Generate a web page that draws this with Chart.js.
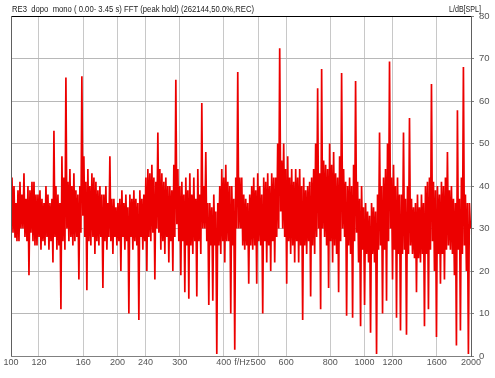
<!DOCTYPE html>
<html>
<head>
<meta charset="utf-8">
<script src="https://cdn.jsdelivr.net/npm/chart.js@4/dist/chart.umd.min.js"></script>
<style>
  html, body { margin: 0; padding: 0; background: #ffffff; }
  #wrap { width: 495px; height: 378px; }
</style>
</head>
<body>
<div id="wrap"><canvas id="fftChart" width="495" height="378"></canvas></div>
<script>
// header texts
const titleText = 'RE3  dopo  mono ( 0.00- 3.45 s) FFT (peak hold) (262144,50.0%,REC)';
const unitText = 'L/dB[SPL]';

// frequency axis ticks (Hz); 451 carries the axis name
const freqTicks = [100, 120, 160, 200, 240, 300, 400, 451, 500, 600, 800, 1000, 1200, 1600, 2000];
const levelTicks = [0, 10, 20, 30, 40, 50, 60, 70, 80];

// spectrum (Hz)
const freqs = [
    100.65, 101.31, 101.97, 102.64, 103.30, 103.97, 104.65, 105.33, 106.02, 106.71,
    107.41, 108.11, 108.81, 109.52, 110.24, 110.96, 111.68, 112.41, 113.14, 113.88,
    114.64, 115.39, 116.14, 116.90, 117.66, 118.43, 119.20, 119.98, 120.76, 121.55,
    122.34, 123.14, 123.94, 124.75, 125.56, 126.38, 127.20, 128.03, 128.87, 129.71,
    130.57, 131.42, 132.26, 133.12, 133.99, 134.86, 135.75, 136.64, 137.52, 138.42,
    139.32, 140.23, 141.15, 142.07, 142.99, 143.92, 144.86, 145.81, 146.76, 147.72,
    148.66, 149.63, 150.62, 151.60, 152.59, 153.59, 154.59, 155.60, 156.61, 157.63,
    158.66, 159.70, 160.73, 161.78, 162.84, 163.90, 164.97, 166.05, 167.12, 168.21,
    169.37, 170.48, 171.59, 172.71, 173.83, 174.96, 176.11, 177.26, 178.41, 179.57,
    180.75, 181.93, 183.11, 184.31, 185.51, 186.72, 187.94, 189.17, 190.40, 191.64,
    192.92, 194.18, 195.44, 196.72, 198.00, 199.29, 200.59, 201.90, 203.22, 204.55,
    205.88, 207.22, 208.57, 209.93, 211.30, 212.68, 214.07, 215.47, 216.87, 218.29,
    219.73, 221.16, 222.59, 224.04, 225.50, 226.97, 228.45, 229.94, 231.44, 232.95,
    234.47, 236.00, 237.54, 239.09, 240.65, 242.22, 243.80, 245.39, 246.99, 248.60,
    250.27, 251.90, 253.55, 255.20, 256.87, 258.55, 260.23, 261.93, 263.64, 265.36,
    267.09, 268.83, 270.58, 272.35, 274.12, 275.91, 277.71, 279.52, 281.34, 283.18,
    285.05, 286.91, 288.78, 290.66, 292.56, 294.47, 296.39, 298.32, 300.27, 302.23,
    304.20, 306.19, 308.18, 310.19, 312.21, 314.25, 316.30, 318.36, 320.44, 322.53,
    324.66, 326.78, 328.91, 331.06, 333.21, 335.38, 337.57, 339.77, 342.00, 344.23,
    346.47, 348.73, 351.01, 353.30, 355.60, 357.92, 360.26, 362.61, 364.97, 367.35,
    369.77, 372.18, 374.60, 377.04, 379.50, 381.98, 384.47, 386.98, 389.50, 392.04,
    394.60, 397.18, 399.76, 402.37, 404.99, 407.63, 410.29, 412.97, 415.66, 418.37,
    421.11, 423.86, 426.62, 429.40, 432.20, 435.02, 437.86, 440.72, 443.59, 446.48,
    449.39, 452.32, 455.27, 458.24, 461.23, 464.24, 467.27, 470.32, 473.38, 476.47,
    479.62, 482.75, 485.90, 489.07, 492.26, 495.47, 498.70, 501.95, 505.23, 508.53,
    511.84, 515.18, 518.54, 521.92, 525.33, 528.76, 532.20, 535.67, 539.16, 542.68,
    546.25, 549.81, 553.39, 557.00, 560.63, 564.29, 567.97, 571.68, 575.40, 579.16,
    582.93, 586.73, 590.56, 594.41, 598.29, 602.19, 606.12, 610.08, 614.05, 618.06,
    622.14, 626.20, 630.28, 634.39, 638.53, 642.70, 646.89, 651.11, 655.35, 659.63,
    663.93, 668.26, 672.62, 677.01, 681.42, 685.87, 690.34, 694.85, 699.37, 703.93,
    708.54, 713.16, 717.80, 722.48, 727.20, 731.95, 736.71, 741.52, 746.35, 751.22,
    756.12, 761.05, 766.01, 771.01, 776.04, 781.10, 786.19, 791.32, 796.48, 801.68,
    806.96, 812.23, 817.52, 822.86, 828.22, 833.63, 839.06, 844.54, 850.04, 855.59,
    861.16, 866.78, 872.43, 878.12, 883.85, 889.62, 895.41, 901.25, 907.13, 913.05,
    919.04, 925.04, 931.03, 937.11, 943.22, 949.38, 955.56, 961.80, 968.06, 974.38,
    980.73, 987.13, 993.56, 1000.04, 1006.6, 1013.2, 1019.7, 1026.4, 1033.1, 1039.8,
    1046.6, 1053.4, 1060.3, 1067.2, 1074.2, 1081.2, 1088.2, 1095.3, 1102.5, 1109.7,
    1116.9, 1124.2, 1131.5, 1138.9, 1146.3, 1153.8, 1161.3, 1168.9, 1176.5, 1184.2,
    1192.0, 1199.8, 1207.5, 1215.4, 1223.3, 1231.3, 1239.3, 1247.4, 1255.5, 1263.7,
    1272.0, 1280.3, 1288.6, 1297.0, 1305.5, 1314.0, 1322.6, 1331.2, 1339.9, 1348.6,
    1357.5, 1366.4, 1375.3, 1384.3, 1393.2, 1402.3, 1411.5, 1420.7, 1429.9, 1439.2,
    1448.6, 1458.1, 1467.6, 1477.2, 1486.8, 1496.5, 1506.2, 1516.0, 1525.9, 1535.9,
    1546.1, 1556.2, 1566.3, 1576.5, 1586.8, 1597.2, 1607.6, 1618.1, 1628.6, 1639.2,
    1649.9, 1660.7, 1671.5, 1682.4, 1693.4, 1704.5, 1715.5, 1726.7, 1738.0, 1749.3,
    1760.9, 1772.4, 1783.8, 1795.4, 1807.1, 1818.9, 1830.8, 1842.7, 1854.7, 1866.8,
    1879.0, 1891.3, 1903.6, 1916.0, 1928.5, 1941.1, 1953.7, 1966.5, 1979.3, 1992.2
];

// peak hold level (dB SPL)
const levels = [
    42, 29, 40, 28, 36, 27, 39, 27, 41, 30,
    38, 30, 43, 28, 37, 27, 40, 19, 39, 29,
    41, 27, 41, 26, 38, 26, 38, 28, 39, 25,
    37, 27, 36, 26, 40, 28, 38, 25, 36, 27,
    37, 22, 53, 28, 40, 25, 38, 26, 36, 11,
    47, 27, 42, 25, 65.5, 30, 41, 27, 44, 28,
    40, 26, 43, 27, 39, 28, 38, 18, 40, 29,
    65.8, 33, 47, 28, 41, 15.5, 44, 27, 40, 26,
    43, 28, 42, 24, 41, 27, 39, 26, 40, 28,
    38, 16, 38, 27, 40, 25, 36, 28, 47, 27,
    37, 24, 37, 28, 35, 26, 36, 27, 37, 20,
    39, 28, 36, 25, 38, 27, 35, 10, 38, 28,
    37, 25, 39, 27, 37, 26, 36, 8.5, 39, 28,
    37, 25, 38, 27, 42, 20, 44, 28, 43, 27,
    45, 29, 42, 18, 41, 30, 52.6, 29, 44, 25,
    43, 27, 41, 24, 42, 28, 40, 22, 40, 27,
    39, 20, 45, 28, 65, 31, 44, 27, 40, 19,
    41, 27, 38, 15, 42, 26, 39, 13.5, 43, 26,
    38, 24, 42, 27, 37, 14, 44, 27, 38, 24,
    59.5, 30, 40, 30, 48, 27, 36, 12, 36, 26,
    35, 13, 38, 26, 34, 0.5, 36, 26, 40, 24,
    44, 27, 42, 22, 45, 27, 41, 27, 40, 10,
    40, 26, 37, 1.5, 42, 30, 66.8, 30, 42, 30,
    42, 26, 38, 25, 37, 26, 36, 17, 38, 26,
    40, 25, 42, 26, 39, 17, 43, 27, 40, 26,
    38, 10, 42, 27, 41, 22, 43, 26, 40, 20,
    43, 27, 42, 22, 42, 28, 50, 30, 72.4, 34,
    46, 30, 50, 28, 44, 17, 47, 27, 42, 24,
    44, 26, 41, 22, 44, 27, 42, 22, 44, 26,
    40, 8.5, 42, 26, 39, 24, 40, 27, 41, 14,
    42, 26, 44, 24, 50, 28, 63, 30, 43, 11,
    67.5, 30, 46, 28, 45, 26, 44, 16, 50, 27,
    45, 22, 48, 26, 43, 24, 42, 15, 47, 27,
    66.6, 30, 44, 28, 41, 9.5, 40, 26, 42, 24,
    40, 9, 45, 27, 64.7, 29, 41, 22, 37, 7,
    40, 25, 35, 12, 36, 24, 34, 22, 33, 5.5,
    36, 24, 35, 22, 34, 0.5, 38, 25, 52.6, 26,
    40, 10, 42, 25, 44, 13, 50, 27, 69.3, 30,
    42, 18, 45, 25, 40, 9, 42, 24, 38, 6,
    38, 24, 52.6, 25, 37, 5, 40, 24, 56, 26,
    37, 24, 35, 23, 36, 15, 38, 23, 35, 22,
    38, 24, 36, 7, 40, 24, 41, 11, 42, 25,
    64, 27, 41, 20, 39, 4.5, 40, 24, 38, 17,
    41, 24, 40, 18, 42, 25, 48, 26, 39, 25,
    40, 24, 37, 19, 36, 2.5, 57.8, 25, 37, 6,
    42, 24, 68, 26, 38, 20, 36, 0.5, 36, 30
];

const red = 'rgb(236, 0, 0)';

// frame + header texts
const framePlugin = {
    id: 'frame',
    afterDraw(chart) {
        const { ctx, chartArea: a } = chart;
        ctx.save();
        ctx.lineWidth = 1;
        ctx.strokeStyle = '#000000';
        ctx.beginPath();
        ctx.moveTo(a.left, a.top + 0.5);
        ctx.lineTo(a.right, a.top + 0.5);
        ctx.stroke();
        ctx.strokeStyle = '#606060';
        ctx.beginPath();
        ctx.moveTo(a.left + 0.5, a.top);
        ctx.lineTo(a.left + 0.5, a.bottom);
        ctx.stroke();

        ctx.fillStyle = '#222222';
        ctx.font = '9px "Liberation Sans", Arial, sans-serif';
        ctx.textBaseline = 'alphabetic';
        ctx.textAlign = 'left';
        ctx.fillText(titleText, 12, 12, 242);
        ctx.textAlign = 'right';
        ctx.fillText(unitText, 481, 12, 32);
        ctx.restore();
    }
};

new Chart(document.getElementById('fftChart').getContext('2d'), {
    type: 'line',
    data: {
        datasets: [{
            data: freqs.map((f, i) => ({ x: f, y: levels[i] })),
            borderColor: red,
            borderWidth: 1.7,
            pointRadius: 0,
            tension: 0,
            fill: false
        }]
    },
    options: {
        responsive: false,
        animation: false,
        events: [],
        layout: { padding: { left: 11, top: 16, right: 0, bottom: 0 } },
        plugins: {
            legend: { display: false },
            tooltip: { enabled: false }
        },
        scales: {
            x: {
                type: 'logarithmic',
                min: 100,
                max: 2000,
                afterBuildTicks: scale => {
                    scale.ticks = freqTicks.map(v => ({ value: v }));
                },
                afterFit: scale => { scale.height = 22; },
                ticks: {
                    autoSkip: false,
                    maxRotation: 0,
                    padding: 1,
                    color: '#555555',
                    font: { family: '"Liberation Sans", Arial, sans-serif', size: 9 },
                    callback: value => (value === 451 ? 'f/Hz' : String(value))
                },
                grid: {
                    color: ctx => (ctx.tick && (ctx.tick.value === 451 || ctx.tick.value === 100) ? 'rgba(0,0,0,0)' : '#c8c8c8'),
                    lineWidth: 1,
                    tickLength: 0
                },
                border: { color: '#808080' }
            },
            y: {
                position: 'right',
                min: 0,
                max: 80,
                afterBuildTicks: scale => {
                    scale.ticks = levelTicks.map(v => ({ value: v }));
                },
                afterFit: scale => { scale.width = 24; },
                ticks: {
                    padding: 5,
                    color: '#555555',
                    font: { family: '"Liberation Sans", Arial, sans-serif', size: 9.5 }
                },
                grid: {
                    color: '#b8b8b8',
                    lineWidth: 1,
                    tickLength: 3,
                    tickColor: '#808080'
                },
                border: { color: '#606060' }
            }
        }
    },
    plugins: [framePlugin]
});
</script>
</body>
</html>
